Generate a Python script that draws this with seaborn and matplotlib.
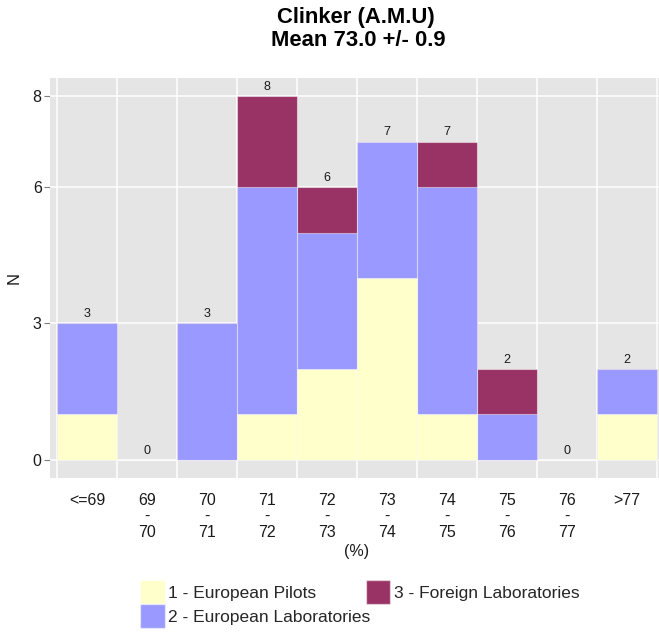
import matplotlib
matplotlib.use("Agg")
import matplotlib.pyplot as plt
import seaborn as sns
import pandas as pd
import numpy as np
from matplotlib.patches import Patch

categories = ["<=69", "69\n-\n70", "70\n-\n71", "71\n-\n72", "72\n-\n73",
              "73\n-\n74", "74\n-\n75", "75\n-\n76", "76\n-\n77", ">77"]
pilots = [1, 0, 0, 1, 2, 4, 1, 0, 0, 1]
labs = [2, 0, 3, 5, 3, 3, 5, 1, 0, 1]
foreign = [0, 0, 0, 2, 1, 0, 1, 1, 0, 0]
series_names = ["1 - European Pilots", "2 - European Laboratories", "3 - Foreign Laboratories"]
colors = ["#FFFFCC", "#9999FF", "#993366"]
yticks = [0, 3, 6, 8]

sns.set_theme(style="darkgrid")
plt.rcParams["font.family"] = ["Liberation Sans", "DejaVu Sans"]

df = pd.DataFrame({"cat": categories, "p": pilots, "l": labs, "f": foreign})
df["c1"] = df["p"]
df["c2"] = df["p"] + df["l"]
df["c3"] = df["c2"] + df["f"]

fig = plt.figure(figsize=(6.59, 6.32), dpi=100)
ax = fig.add_axes([50/659, 1-478/632, 614/659, 400/632])
ax.set_facecolor("#E5E5E5")

for col, c in zip(["c3", "c2", "c1"], colors[::-1]):
    sns.barplot(data=df, x="cat", y=col, color=c, width=1.0, ax=ax,
                edgecolor=(1, 1, 1, 0.45), linewidth=0.8, saturation=1, zorder=3)

for i, tot in enumerate(df["c3"]):
    ax.text(i, tot + 0.07, str(int(tot)), ha="center", va="bottom", fontsize=9, color="#1a1a1a", zorder=4)

ax.set_xlim(-0.5 - 7/60, 9.5 + 7/60)
ax.set_ylim(-0.4, 8.4)
ax.set_yticks(yticks)
ax.set_xticks(np.arange(10))
ax.set_xticklabels(categories, fontsize=11.5, color="#1a1a1a", linespacing=1.08)
ax.tick_params(axis="y", labelsize=11.5, labelcolor="#1a1a1a", length=4, width=0.8, color="#7f7f7f", left=True, pad=2)
ax.tick_params(axis="x", length=0, pad=11)
ax.grid(False)
for v in np.arange(-0.5, 10.0, 1.0):
    ax.axvline(v, color="white", lw=1.1, zorder=1)
for v in yticks:
    ax.axhline(v, color="white", lw=1.1, zorder=1)
for s in ax.spines.values():
    s.set_visible(False)

ax.set_xlabel("(%)", fontsize=11.5, color="#1a1a1a", labelpad=2.5)
ax.set_ylabel("N", fontsize=12, color="#1a1a1a", labelpad=8)

fig.text(356/659, 1-17/632, "Clinker (A.M.U)", ha="center", va="center", fontsize=15.8, fontweight="bold", color="black")
fig.text(358/659, 1-40/632, "Mean 73.0 +/- 0.9", ha="center", va="center", fontsize=15.8, fontweight="bold", color="black")

handles = [Patch(facecolor=c, edgecolor=(1, 1, 1, 0.5), label=n) for c, n in zip(colors, series_names)]
fig.legend(handles=handles, loc="center", bbox_to_anchor=(360/659, 1-604/632), ncol=2,
           frameon=False, fontsize=12.5, handlelength=1.4, handleheight=1.75, handletextpad=0.2,
           columnspacing=-0.25, labelspacing=0.0, borderpad=0)

fig.savefig("out.png", dpi=100)
